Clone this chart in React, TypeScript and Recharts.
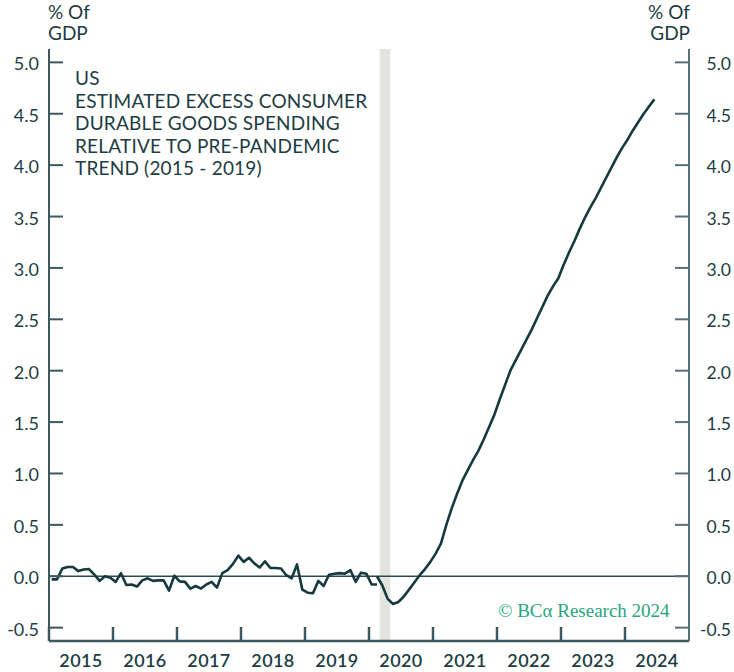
import React from "react";
import {
  Line,
  LineChart,
  ReferenceArea,
  ReferenceLine,
  XAxis,
  YAxis,
} from "recharts";

const W = 734;
const H = 672;
const PLOT_L = 49;
const PLOT_R = 689;
const PLOT_T = 49;
const PLOT_B = 641;
const YEAR_PX = (PLOT_R - PLOT_L) / 10;

const INK = "#15393f";
const AXIS = "#3b585f";
const TEXT = "#1d3c43";
const GREEN = "#27a67f";
const FONT = "Lato, 'Open Sans', sans-serif";

// monthly, Jan 2015 .. Feb 2020
const preTrend = [
  -0.03, -0.03, 0.075, 0.09, 0.09, 0.05, 0.065, 0.07, 0.015, -0.045, 0.0, -0.015,
  -0.055, 0.03, -0.085, -0.08, -0.1, -0.04, -0.02, -0.045, -0.04, -0.04, -0.14, 0.005,
  -0.05, -0.055, -0.12, -0.095, -0.12, -0.08, -0.055, -0.11, 0.03, 0.06, 0.12, 0.2,
  0.14, 0.18, 0.125, 0.085, 0.145, 0.08, 0.08, 0.075, 0.01, -0.02, 0.115, -0.13,
  -0.16, -0.165, -0.045, -0.095, 0.015, 0.025, 0.03, 0.025, 0.06, -0.055, 0.035, 0.025,
  -0.08, -0.08,
];

// monthly, Feb 2020 .. Jun 2024
const postTrend = [
  0.0, -0.09, -0.22, -0.27, -0.25, -0.2, -0.13, -0.06, 0.01, 0.07, 0.14,
  0.22, 0.32, 0.5, 0.66, 0.8, 0.93, 1.03, 1.13, 1.22, 1.33, 1.45, 1.57,
  1.72, 1.86, 2.0, 2.1, 2.2, 2.3, 2.4, 2.51, 2.62, 2.73, 2.82, 2.9,
  3.03, 3.15, 3.26, 3.38, 3.49, 3.59, 3.68, 3.78, 3.88, 3.98, 4.08, 4.17,
  4.25, 4.34, 4.42, 4.5, 4.57, 4.64,
];

const START_YEAR = 2015;
const POST_START = 61; // month index of Feb 2020

const yearTicks = [2015, 2016, 2017, 2018, 2019, 2020, 2021, 2022, 2023, 2024];
const yTicks = [-0.5, 0, 0.5, 1, 1.5, 2, 2.5, 3, 3.5, 4, 4.5, 5];
const yDomain = [-0.63, 5.13];
const recession = [2020 + 2 / 12, 2020 + 4 / 12];

const noteLines = [
  "US",
  "ESTIMATED EXCESS CONSUMER",
  "DURABLE GOODS SPENDING",
  "RELATIVE TO PRE-PANDEMIC",
  "TREND (2015 - 2019)",
];

const rows: { t: number; pre?: number; post?: number }[] = [];
for (let i = 0; i < POST_START + postTrend.length; i++) {
  rows.push({
    t: START_YEAR + (i + 0.5) / 12,
    pre: i < preTrend.length ? preTrend[i] : undefined,
    post: i >= POST_START ? postTrend[i - POST_START] : undefined,
  });
}

function YearTick({ x, payload }: any) {
  return (
    <g>
      <line x1={x} x2={x} y1={PLOT_B - 14} y2={PLOT_B} stroke={AXIS} strokeWidth={2.5} />
      <text
        x={x + YEAR_PX / 2}
        y={667}
        textAnchor="middle"
        fill={TEXT}
        fontSize={18}
        fontWeight={600}
        fontFamily={FONT}
        letterSpacing={0.4}
      >
        {payload.value}
      </text>
    </g>
  );
}

function LeftTick({ y, payload }: any) {
  return (
    <g>
      <line x1={PLOT_L} x2={PLOT_L + 14} y1={y} y2={y} stroke={AXIS} strokeWidth={2} />
      <text x={PLOT_L - 10} y={y + 8} textAnchor="end" fill={TEXT} fontSize={18} fontFamily={FONT}>
        {Number(payload.value).toFixed(1)}
      </text>
    </g>
  );
}

function RightTick({ y, payload }: any) {
  return (
    <g>
      <line x1={PLOT_R - 14} x2={PLOT_R} y1={y} y2={y} stroke="#56707a" strokeWidth={2} />
      <text x={731} y={y + 8} textAnchor="end" fill={TEXT} fontSize={17.5} fontFamily={FONT}>
        {Number(payload.value).toFixed(1)}
      </text>
    </g>
  );
}

const label: React.CSSProperties = {
  position: "absolute",
  fontFamily: FONT,
  fontSize: 19,
  lineHeight: "21px",
  color: TEXT,
  whiteSpace: "nowrap",
};

export default function App() {
  return (
    <div style={{ position: "absolute", left: 0, top: 0, width: W, height: H, background: "#fff" }}>
      <LineChart
        width={W}
        height={H}
        data={rows}
        margin={{ top: PLOT_T, right: 0, bottom: 0, left: 0 }}
      >
        <ReferenceArea
          x1={recession[0]}
          x2={recession[1]}
          yAxisId="left"
          fill="#e4e4de"
          fillOpacity={1}
          stroke="none"
        />
        <XAxis
          dataKey="t"
          type="number"
          domain={[2015, 2025]}
          ticks={yearTicks}
          interval={0}
          height={H - PLOT_B}
          tickSize={0}
          tickLine={false}
          axisLine={{ stroke: AXIS, strokeWidth: 2.5 }}
          tick={<YearTick />}
        />
        <XAxis
          xAxisId="top"
          orientation="top"
          type="number"
          domain={[2015, 2025]}
          height={0}
          tick={false}
          tickLine={false}
          axisLine={{ stroke: AXIS, strokeWidth: 2 }}
        />
        <YAxis
          yAxisId="left"
          type="number"
          domain={yDomain}
          allowDataOverflow
          ticks={yTicks}
          interval={0}
          width={PLOT_L}
          tickSize={0}
          tickLine={false}
          axisLine={{ stroke: AXIS, strokeWidth: 2 }}
          tick={<LeftTick />}
        />
        <YAxis
          yAxisId="right"
          orientation="right"
          type="number"
          domain={yDomain}
          allowDataOverflow
          ticks={yTicks}
          interval={0}
          width={W - PLOT_R}
          tickSize={0}
          tickLine={false}
          axisLine={{ stroke: "#56707a", strokeWidth: 2 }}
          tick={<RightTick />}
        />
        <ReferenceLine y={0} yAxisId="left" stroke="#2a4a51" strokeWidth={1.5} />
        <Line
          yAxisId="left"
          dataKey="pre"
          type="linear"
          stroke={INK}
          strokeWidth={2.6}
          strokeLinejoin="round"
          dot={false}
          isAnimationActive={false}
        />
        <Line
          yAxisId="left"
          dataKey="post"
          type="linear"
          stroke={INK}
          strokeWidth={2.6}
          strokeLinejoin="round"
          dot={false}
          isAnimationActive={false}
        />
      </LineChart>

      <div style={{ ...label, left: 48, top: 1 }}>% Of<br />GDP</div>
      <div style={{ ...label, right: W - 690, top: 1, textAlign: "right" }}>% Of<br />GDP</div>

      <div
        style={{ ...label, left: 75, top: 67, fontSize: 19, lineHeight: "22.6px", letterSpacing: 0.2 }}
      >
        {noteLines.map((s) => (
          <div key={s}>{s}</div>
        ))}
      </div>

      <div
        style={{
          ...label,
          left: 498,
          top: 600,
          fontFamily: "'Liberation Serif', 'DejaVu Serif', serif",
          fontSize: 19,
          color: GREEN,
        }}
      >
        © BCα Research 2024
      </div>
    </div>
  );
}
